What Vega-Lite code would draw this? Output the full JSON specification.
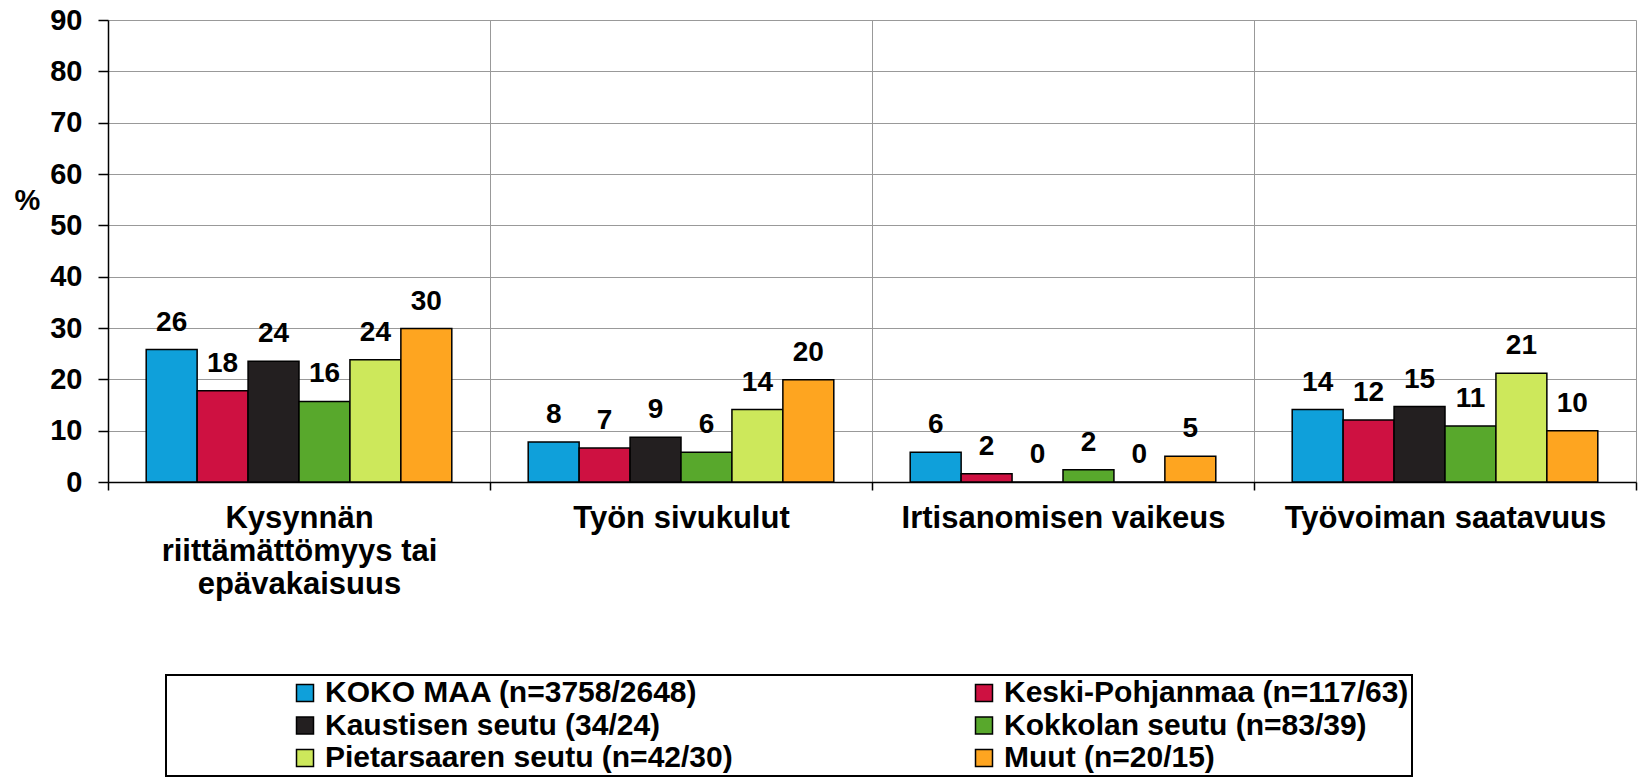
{
  "$schema": "https://vega.github.io/schema/vega-lite/v6.json",
  "width": 1528,
  "height": 462,
  "autosize": {"type": "none"},
  "padding": {"left": 108, "top": 20, "right": 6, "bottom": 295},
  "background": "white",
  "config": {"view": {"stroke": null}, "font": "Liberation Sans"},
  "data": {
    "values": [
      {"category": "Kysynnän riittämättömyys tai epävakaisuus", "series": "KOKO MAA (n=3758/2648)", "value": 25.8},
      {"category": "Kysynnän riittämättömyys tai epävakaisuus", "series": "Keski-Pohjanmaa (n=117/63)", "value": 17.8},
      {"category": "Kysynnän riittämättömyys tai epävakaisuus", "series": "Kaustisen seutu (34/24)", "value": 23.5},
      {"category": "Kysynnän riittämättömyys tai epävakaisuus", "series": "Kokkolan seutu (n=83/39)", "value": 15.7},
      {"category": "Kysynnän riittämättömyys tai epävakaisuus", "series": "Pietarsaaren seutu (n=42/30)", "value": 23.8},
      {"category": "Kysynnän riittämättömyys tai epävakaisuus", "series": "Muut (n=20/15)", "value": 29.9},
      {"category": "Työn sivukulut", "series": "KOKO MAA (n=3758/2648)", "value": 7.8},
      {"category": "Työn sivukulut", "series": "Keski-Pohjanmaa (n=117/63)", "value": 6.6},
      {"category": "Työn sivukulut", "series": "Kaustisen seutu (34/24)", "value": 8.7},
      {"category": "Työn sivukulut", "series": "Kokkolan seutu (n=83/39)", "value": 5.8},
      {"category": "Työn sivukulut", "series": "Pietarsaaren seutu (n=42/30)", "value": 14.1},
      {"category": "Työn sivukulut", "series": "Muut (n=20/15)", "value": 19.9},
      {"category": "Irtisanomisen vaikeus", "series": "KOKO MAA (n=3758/2648)", "value": 5.8},
      {"category": "Irtisanomisen vaikeus", "series": "Keski-Pohjanmaa (n=117/63)", "value": 1.6},
      {"category": "Irtisanomisen vaikeus", "series": "Kaustisen seutu (34/24)", "value": 0},
      {"category": "Irtisanomisen vaikeus", "series": "Kokkolan seutu (n=83/39)", "value": 2.4},
      {"category": "Irtisanomisen vaikeus", "series": "Pietarsaaren seutu (n=42/30)", "value": 0},
      {"category": "Irtisanomisen vaikeus", "series": "Muut (n=20/15)", "value": 5.0},
      {"category": "Työvoiman saatavuus", "series": "KOKO MAA (n=3758/2648)", "value": 14.1},
      {"category": "Työvoiman saatavuus", "series": "Keski-Pohjanmaa (n=117/63)", "value": 12.1},
      {"category": "Työvoiman saatavuus", "series": "Kaustisen seutu (34/24)", "value": 14.7},
      {"category": "Työvoiman saatavuus", "series": "Kokkolan seutu (n=83/39)", "value": 10.9},
      {"category": "Työvoiman saatavuus", "series": "Pietarsaaren seutu (n=42/30)", "value": 21.2},
      {"category": "Työvoiman saatavuus", "series": "Muut (n=20/15)", "value": 10.0}
    ]
  },
  "encoding": {
    "x": {
      "field": "category",
      "type": "nominal",
      "sort": ["Kysynnän riittämättömyys tai epävakaisuus", "Työn sivukulut", "Irtisanomisen vaikeus", "Työvoiman saatavuus"],
      "scale": {"paddingInner": 0, "paddingOuter": 0},
      "axis": {
        "title": null,
        "tickBand": "extent",
        "grid": true,
        "gridColor": "#999999",
        "gridWidth": 1,
        "domainColor": "black",
        "domainWidth": 1.5,
        "tickColor": "black",
        "tickWidth": 1.5,
        "tickSize": 8,
        "labelAngle": 0,
        "labelFont": "Liberation Sans",
        "labelFontSize": 31,
        "labelFontWeight": "bold",
        "labelColor": "black",
        "labelPadding": 13,
        "labelLimit": 500,
        "labelOverlap": false,
        "labelLineHeight": 33,
        "labelBaseline": "top",
        "labelExpr": "datum.label == 'Kysynnän riittämättömyys tai epävakaisuus' ? ['Kysynnän', 'riittämättömyys tai', 'epävakaisuus'] : datum.label"
      }
    },
    "xOffset": {
      "field": "series",
      "type": "nominal",
      "sort": ["KOKO MAA (n=3758/2648)", "Keski-Pohjanmaa (n=117/63)", "Kaustisen seutu (34/24)", "Kokkolan seutu (n=83/39)", "Pietarsaaren seutu (n=42/30)", "Muut (n=20/15)"],
      "scale": {"paddingInner": 0, "paddingOuter": 0.75}
    },
    "y": {
      "field": "value",
      "type": "quantitative",
      "scale": {"domain": [0, 90], "nice": false},
      "axis": {
        "values": [0, 10, 20, 30, 40, 50, 60, 70, 80, 90],
        "grid": true,
        "gridColor": "#999999",
        "gridWidth": 1,
        "domainColor": "black",
        "domainWidth": 1.5,
        "tickColor": "black",
        "tickWidth": 1.5,
        "tickSize": 10,
        "labelFont": "Liberation Sans",
        "labelFontSize": 29,
        "labelFontWeight": "bold",
        "labelColor": "black",
        "labelPadding": 16,
        "title": "%",
        "titleAngle": 0,
        "titleFont": "Liberation Sans",
        "titleFontSize": 29,
        "titleFontWeight": "bold",
        "titleColor": "black",
        "titleAlign": "center",
        "titleBaseline": "middle",
        "titleX": -81,
        "titleY": 180
      }
    }
  },
  "layer": [
    {
      "mark": {"type": "bar", "stroke": "black", "strokeWidth": 1.5},
      "encoding": {
        "color": {
          "field": "series",
          "type": "nominal",
          "scale": {
            "domain": ["KOKO MAA (n=3758/2648)", "Kaustisen seutu (34/24)", "Pietarsaaren seutu (n=42/30)", "Keski-Pohjanmaa (n=117/63)", "Kokkolan seutu (n=83/39)", "Muut (n=20/15)"],
            "range": ["#0FA0DA", "#231F20", "#CDE85B", "#CE1141", "#58A82C", "#FEA520"]
          },
          "legend": {
            "orient": "none",
            "legendX": 58,
            "legendY": 655,
            "columns": 2,
            "columnPadding": 236,
            "rowPadding": 2.5,
            "padding": 3,
            "strokeColor": "black",
            "fillColor": "white",
            "title": "\u00a0",
            "titleOrient": "left",
            "titleFontSize": 1,
            "titlePadding": 121,
            "symbolType": "square",
            "symbolSize": 289,
            "symbolStrokeColor": "black",
            "symbolStrokeWidth": 1.5,
            "symbolOpacity": 1,
            "labelFont": "Liberation Sans",
            "labelFontSize": 30,
            "labelFontWeight": "bold",
            "labelColor": "black",
            "labelOffset": 5,
            "labelLimit": 1000,
            "labelExpr": "indexof(['Keski-Pohjanmaa (n=117/63)', 'Kokkolan seutu (n=83/39)', 'Muut (n=20/15)'], datum.label) >= 0 ? datum.label + '\u00a0\u00a0\u00a0\u00a0\u00a0\u00a0\u00a0\u00a0\u00a0\u00a0\u00a0\u00a0\u00a0\u00a0\u00a0' : datum.label",
            "encode": {"legend": {"update": {"strokeWidth": {"value": 2}}}}
          }
        }
      }
    },
    {
      "mark": {"type": "text", "dy": -19, "baseline": "alphabetic", "align": "center", "font": "Liberation Sans", "fontSize": 28, "fontWeight": "bold", "color": "black"},
      "encoding": {
        "text": {"field": "value", "type": "quantitative", "format": ".0f"}
      }
    }
  ]
}
